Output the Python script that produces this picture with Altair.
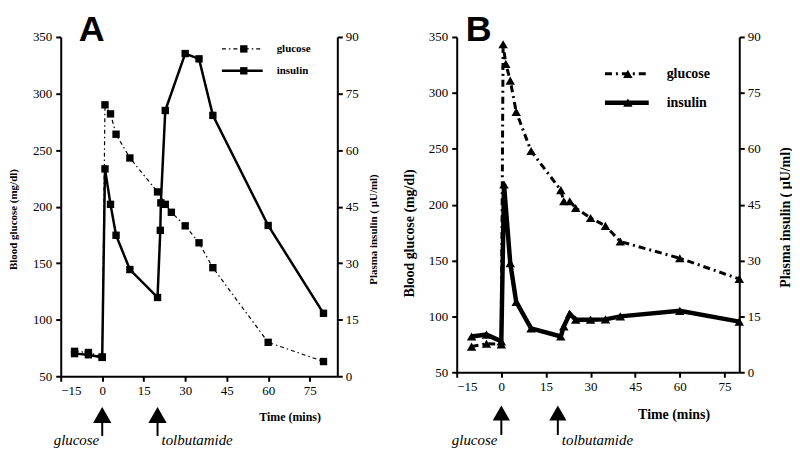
import altair as alt
import pandas as pd

# ---------------- data ----------------
# Panel A
a_glu_t = [-10, -5, 0, 1, 3, 5, 10, 20, 22.8, 25, 30, 35, 40, 60, 80]
a_glu = [72, 71, 67, 290, 282, 264, 243, 213, 202, 195, 183, 168, 146, 80, 63]
a_ins_t = [-10, -5, 0, 1, 3, 5, 10, 20, 21, 21.2, 22.8, 30, 35, 40, 60, 80]
a_ins = [6.0, 5.7, 5.0, 55, 45.6, 37.4, 28.3, 20.9, 38.7, 46, 70.5, 85.6, 84.2, 69.2, 40, 16.7]

# Panel B
b_glu_t = [-10, -5, 0, 0.6, 1.5, 3, 5, 10, 20, 21, 23, 25, 30, 35, 40, 60, 80]
b_glu = [73, 75.5, 75, 343.5, 326, 311, 283, 248, 213, 203, 203, 197, 188, 181, 167, 152, 133.5]
b_ins_t = [-10, -5, 0, 0.9, 3, 5, 10, 20, 21, 23, 25, 30, 35, 40, 60, 80]
b_ins = [9.6, 10.1, 8.3, 50.4, 29.3, 18.9, 11.8, 9.6, 12.3, 15.7, 14.1, 14.1, 14.2, 15.0, 16.5, 13.6]

x_ticks = [-15, 0, 15, 30, 45, 60, 75]
glu_ticks = [50, 100, 150, 200, 250, 300, 350]
ins_ticks = [0, 15, 30, 45, 60, 75, 90]
event_labels = ["glucose", "tolbutamide"]
a_event_t = [0, 20]
b_event_t = [0, 19]
series_names = ["glucose", "insulin"]

SERIF = "Liberation Serif"
SANS = "Liberation Sans"
one = pd.DataFrame({"d": [0]})


def panel(cfg):
    xenc = alt.X(
        "t:Q",
        scale=alt.Scale(domain=cfg["xdom"], nice=False, zero=False),
        axis=alt.Axis(
            values=x_ticks, title="Time (mins)", titleFontSize=cfg["xtfs"],
            titleX=cfg["xtx"], titleY=cfg["xty"], titleAlign="center",
            titleBaseline="middle", labelPadding=3, labelFont=SERIF,
        ),
    )
    glu_df = pd.DataFrame({"t": cfg["gt"], "v": cfg["g"]})
    ins_df = pd.DataFrame({"t": cfg["it"], "v": cfg["i"]})

    glu = alt.Chart(glu_df).mark_line(
        color="black", strokeWidth=cfg["gw"], strokeDash=cfg["gdash"],
        point=alt.OverlayMarkDef(shape=cfg["shape"], size=cfg["msize"], filled=True,
                                 color="black", opacity=1),
    ).encode(
        x=xenc,
        y=alt.Y("v:Q", scale=alt.Scale(domain=[50, 350], nice=False, zero=False),
                axis=alt.Axis(values=glu_ticks, orient="left", title="Blood glucose (mg/dl)",
                              titleFontSize=cfg["ytfs"], titleAngle=270, titleAlign="center",
                              titleBaseline="middle", titleX=cfg["ltx"], titleY=cfg["lty"],
                              labelPadding=4, labelFont=SERIF)),
    )
    ins = alt.Chart(ins_df).mark_line(
        color="black", strokeWidth=cfg["iw"],
        point=alt.OverlayMarkDef(shape=cfg["shape"], size=cfg["msize"], filled=True,
                                 color="black", opacity=1),
    ).encode(
        x=xenc,
        y=alt.Y("v:Q", scale=alt.Scale(domain=[0, 90], nice=False, zero=False),
                axis=alt.Axis(values=ins_ticks, orient="right", title="Plasma insulin ( \u00b5U/ml)",
                              titleFontSize=cfg["ytfs"], titleAngle=270, titleAlign="center",
                              titleBaseline="middle", titleX=cfg["rtx"], titleY=cfg["rty"],
                              labelPadding=3, labelFont=SERIF)),
    )

    ev = pd.DataFrame({"t": cfg["et"], "label": event_labels})
    head = alt.Chart(ev).mark_point(shape="triangle-up", size=cfg["hsize"], filled=True,
                                    color="black", opacity=1).encode(
        x=xenc, y=alt.value(cfg["hy"]))
    shaft = alt.Chart(ev).mark_rule(color="black", strokeWidth=2).encode(
        x=xenc, y=alt.value(cfg["sy"][0]), y2=alt.value(cfg["sy"][1]))
    t1 = alt.Chart(ev.iloc[[0]]).mark_text(
        align="right", baseline="alphabetic", font=SERIF, fontStyle="italic",
        fontSize=15, dx=cfg["gdx"], color="black").encode(
        x=xenc, y=alt.value(cfg["ty"]), text="label:N")
    t2 = alt.Chart(ev.iloc[[1]]).mark_text(
        align="left", baseline="alphabetic", font=SERIF, fontStyle="italic",
        fontSize=15, dx=cfg["tdx"], color="black").encode(
        x=xenc, y=alt.value(cfg["ty"]), text="label:N")

    letter = alt.Chart(one).mark_text(
        align="left", baseline="alphabetic", font=SANS, fontWeight="bold",
        fontSize=36, color="black").encode(
        x=alt.value(cfg["lx"]), y=alt.value(cfg["ly"]), text=alt.value(cfg["letter"]))

    lx0, lx1, lmx, ltx = cfg["legx"]
    r1, r2 = cfg["legy"]
    leg = [
        alt.Chart(one).mark_rule(color="black", strokeWidth=cfg["gw"], strokeDash=cfg["gdash"]).encode(
            x=alt.value(lx0), x2=alt.value(lx1), y=alt.value(r1)),
        alt.Chart(one).mark_rule(color="black", strokeWidth=cfg["iw"]).encode(
            x=alt.value(lx0), x2=alt.value(lx1), y=alt.value(r2)),
        alt.Chart(one).mark_point(shape=cfg["shape"], size=cfg["msize"], filled=True,
                                  color="black", opacity=1).encode(
            x=alt.value(lmx), y=alt.value(r1)),
        alt.Chart(one).mark_point(shape=cfg["shape"], size=cfg["msize"], filled=True,
                                  color="black", opacity=1).encode(
            x=alt.value(lmx), y=alt.value(r2)),
        alt.Chart(one).mark_text(align="left", baseline="middle", font=SERIF, fontWeight="bold",
                                 fontSize=cfg["legfs"], color="black").encode(
            x=alt.value(ltx), y=alt.value(r1), text=alt.value(series_names[0])),
        alt.Chart(one).mark_text(align="left", baseline="middle", font=SERIF, fontWeight="bold",
                                 fontSize=cfg["legfs"], color="black").encode(
            x=alt.value(ltx), y=alt.value(r2), text=alt.value(series_names[1])),
    ]

    return alt.layer(glu, ins, head, shaft, t1, t2, letter, *leg).resolve_scale(
        y="independent").properties(width=cfg["w"], height=cfg["h"])


A = panel(dict(
    xdom=[-15, 85], gt=a_glu_t, g=a_glu, it=a_ins_t, i=a_ins, et=a_event_t,
    shape="square", msize=55, gw=1.2, gdash=[4, 3, 1.5, 3], iw=2.5,
    w=278, h=341, xtfs=12, xtx=230, xty=40, ytfs=11,
    ltx=-47, lty=183, rtx=36, rty=193,
    hsize=340, hy=380, sy=(387, 401), ty=410, gdx=-3, tdx=4,
    letter="A", lx=18, ly=4,
    legx=(162, 203, 184, 217), legy=(12, 34), legfs=11,
))

B = panel(dict(
    xdom=[-15, 80], gt=b_glu_t, g=b_glu, it=b_ins_t, i=b_ins, et=b_event_t,
    shape="triangle-up", msize=90, gw=3, gdash=[7, 4, 2, 4], iw=4.5,
    w=284, h=337, xtfs=14, xtx=218, xty=42, ytfs=14,
    ltx=-47, lty=197, rtx=46, rty=181,
    hsize=300, hy=378, sy=(385, 400), ty=410, gdx=-4, tdx=4,
    letter="B", lx=9, ly=4,
    legx=(149, 193, 172, 211), legy=(37, 66), legfs=14,
))

chart = alt.hconcat(A, B, spacing=25).properties(
    padding={"left": 0, "top": 3, "right": 0, "bottom": 0}
).configure_view(stroke=None).configure_axis(
    domainColor="black", domainWidth=2, tickColor="black", tickWidth=2, tickSize=5,
    labelFont=SERIF, labelFontSize=13, labelColor="black", grid=False,
    titleFont=SERIF, titleFontWeight="bold", titleColor="black",
)

chart.save("out.html", embed_options={"renderer": "svg", "actions": False})
